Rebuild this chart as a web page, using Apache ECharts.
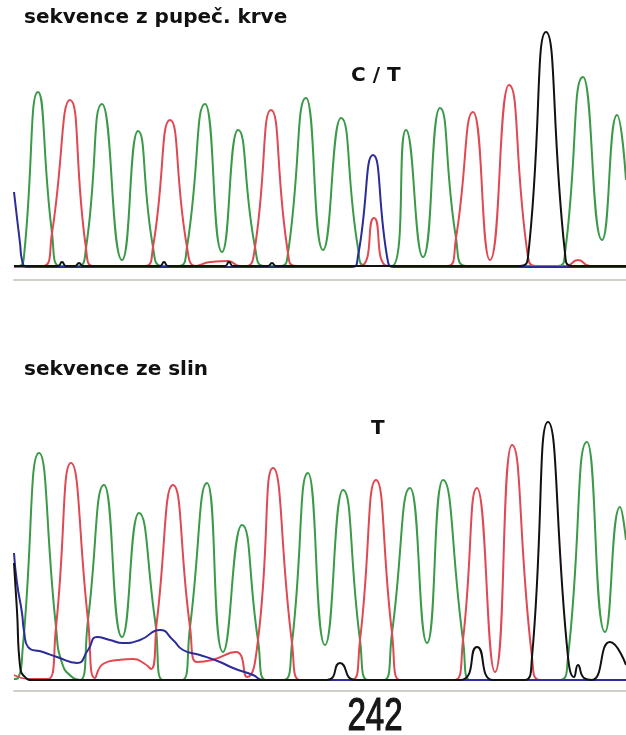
<!DOCTYPE html>
<html>
<head>
<meta charset="utf-8">
<script src="https://cdn.jsdelivr.net/npm/echarts@6/dist/echarts.min.js"></script>
<style>
  html, body { margin: 0; padding: 0; background: #fff; }
  #chart { width: 626px; height: 735px; }
</style>
</head>
<body>
<div id="chart"></div>
<script>
// signal height above the baseline: [position, height]
const topGreen = [[14,1],[20,2],[24,12],[38,176],[52,35],[60,2],[78,2],[86,20],[102,164],[122,8],[138,137],[153,21],[162,2],[179,2],[187,21],[205,164],[222,16],[238,138],[255,21],[264,2],[281,2],[288,15],[306,170],[323,18],[341,150],[358,20],[366,2],[392,2],[406,138],[423,11],[440,160],[456,30],[466,2],[558,2],[565,15],[583,191],[602,28],[617,153],[626,88]]
const topRed = [[14,1],[44,2],[52,35],[70,168],[86,20],[94,2],[145,2],[153,21],[170,148],[187,21],[196,2],[210,6],[228,7],[240,2],[247,2],[255,21],[271,158],[288,15],[296,2],[360,2],[374,50],[388,2],[448,2],[456,30],[473,156],[490,8],[509,183],[528,11],[536,2],[566,2],[578,8],[590,2],[626,2]]
const topBlue = [[14,76],[17,50],[20,25],[22,8],[28,1],[352,1],[358,12],[373,113],[388,6],[394,1],[626,1]]
const topBlack = [[14,2],[58,2],[62,6],[66,2],[75,2],[79,5],[83,2],[160,2],[164,6],[168,2],[225,2],[229,6],[233,2],[268,2],[272,5],[276,2],[520,2],[528,11],[546,236],[565,15],[572,2],[626,2]]

const botGreen = [[14,2],[18,3],[23,36],[39,228],[56,54],[62,18],[72,4],[80,1],[88,61],[104,196],[122,44],[139,168],[155,61],[163,1],[182,1],[190,54],[207,198],[223,29],[242,156],[258,41],[266,1],[284,1],[292,38],[308,208],[325,36],[343,191],[360,41],[368,1],[384,1],[392,48],[410,193],[427,38],[443,201],[463,41],[470,1],[560,1],[568,24],[587,239],[605,49],[620,174],[626,141]]
const botRed = [[14,6],[30,2],[48,2],[56,54],[71,218],[88,61],[95,3],[103,17],[118,21],[133,22],[145,17],[151,12],[157,61],[173,196],[190,54],[197,19],[212,21],[236,29],[247,4],[258,41],[273,213],[292,38],[300,1],[352,1],[360,41],[376,201],[392,48],[400,1],[455,1],[463,41],[477,193],[495,9],[512,236],[532,24],[540,1],[626,1]]
const botBlue = [[14,128],[17,98],[22,68],[24,50],[28,34],[43,29],[57,24],[77,18],[88,31],[97,44],[110,41],[123,38],[140,41],[160,51],[173,41],[183,31],[200,26],[220,19],[233,13],[253,6],[263,1],[626,1]]
const botBlack = [[14,118],[17,70],[20,15],[26,3],[32,1],[327,1],[340,18],[355,1],[460,1],[477,34],[493,1],[525,1],[532,24],[548,259],[568,24],[574,4],[578,16],[584,3],[592,1],[610,39],[626,16]]

const titles = ['sekvence z pupeč. krve', 'sekvence ze slin']
const calls = ['C / T', 'T']
const position = '242'

const colors = { green: '#3a9a48', red: '#e04852', blue: '#2b2b9a', black: '#111111' }

let chart = echarts.init(document.getElementById('chart'))

function trace (data, color, idx) {
  return {
    type: 'line',
    xAxisIndex: idx,
    yAxisIndex: idx,
    data: data,
    smooth: 0.55,
    symbol: 'none',
    silent: true,
    lineStyle: { color: color, width: 2 }
  }
}

const txt = { fontFamily: 'DejaVu Sans', fontWeight: 'bold', fontSize: 20, color: '#111' }

let option = {
  backgroundColor: '#fff',
  animation: false,
  title: [
    { text: titles[0], left: 24, top: 8, padding: 0, textStyle: txt },
    { text: calls[0], left: 351, top: 66, padding: 0, textStyle: txt },
    { text: titles[1], left: 24, top: 360, padding: 0, textStyle: txt },
    { text: calls[1], left: 371, top: 419, padding: 0, textStyle: txt }
  ],
  graphic: [{
    type: 'text',
    left: 347,
    top: 694,
    scaleX: 0.72,
    style: {
      text: position,
      font: 'normal 46px "Liberation Sans", Arial, sans-serif',
      fill: '#161616',
      stroke: '#161616',
      lineWidth: 1.2
    }
  }],
  grid: [
    { left: 14, right: 0, top: 8, height: 270 },
    { left: 14, right: 0, top: 411, height: 280 }
  ],
  xAxis: [0, 1].map(i => ({
    type: 'value',
    gridIndex: i,
    min: 14,
    max: 626,
    offset: i === 0 ? 2 : 0,
    axisLine: { show: true, onZero: false, lineStyle: { color: '#cfcfc8', width: 2 } },
    axisTick: { show: false },
    axisLabel: { show: false },
    splitLine: { show: false }
  })),
  yAxis: [
    { type: 'value', gridIndex: 0, min: -10, max: 260, show: false, splitLine: { show: false } },
    { type: 'value', gridIndex: 1, min: -10, max: 270, show: false, splitLine: { show: false } }
  ],
  series: [
    trace(topGreen, colors.green, 0),
    trace(topRed, colors.red, 0),
    trace(topBlue, colors.blue, 0),
    trace(topBlack, colors.black, 0),
    trace(botGreen, colors.green, 1),
    trace(botRed, colors.red, 1),
    trace(botBlue, colors.blue, 1),
    trace(botBlack, colors.black, 1)
  ]
}
chart.setOption(option)
</script>
</body>
</html>
